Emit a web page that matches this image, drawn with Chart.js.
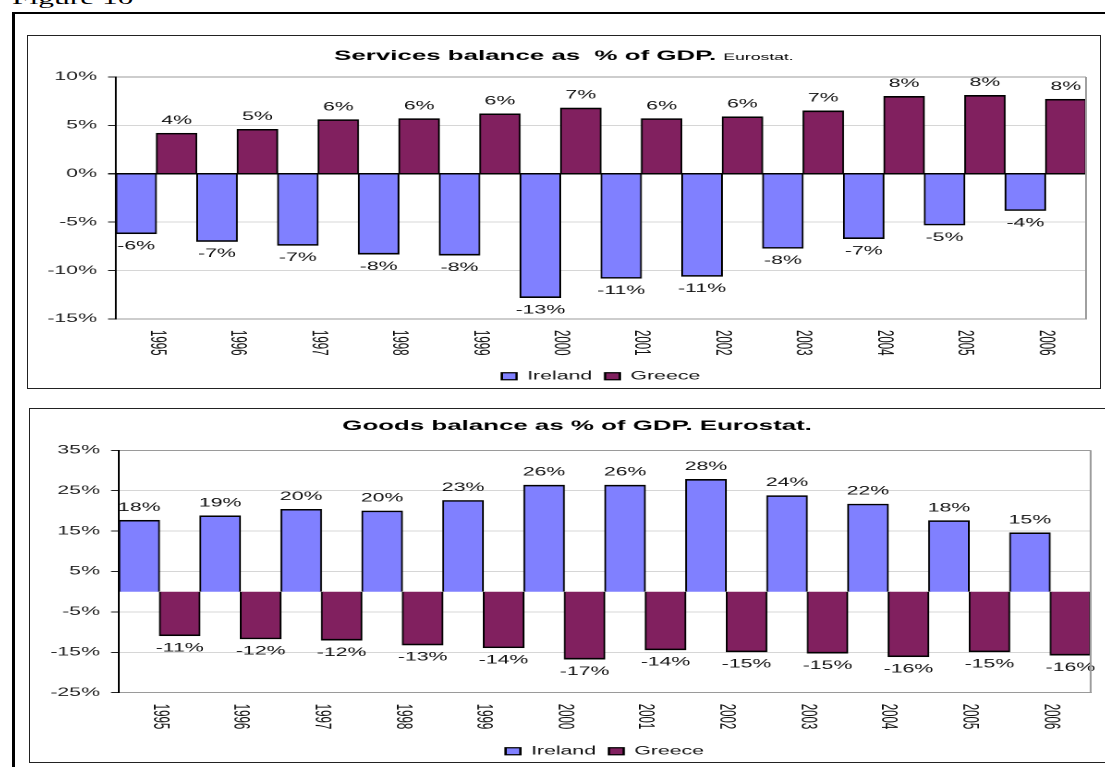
<!DOCTYPE html>
<html>
<head>
<meta charset="utf-8">
<title>Services and goods balance</title>
<script src="https://cdn.jsdelivr.net/npm/chart.js@4.4.1/dist/chart.umd.min.js"></script>
<style>
  html, body { margin: 0; padding: 0; background: #fff; }
  body { width: 1105px; height: 767px; position: relative; overflow: hidden; }
  .fig-caption {
    position: absolute; left: 12px; top: -10px;
    font: 17px/17px "Times New Roman", "Liberation Serif", serif; color: #000;
    transform: scaleX(1.85); transform-origin: 0 0; white-space: nowrap;
  }
  .frame-top { position: absolute; left: 12px; top: 12px; width: 1100px; height: 2px; background: #000; }
  .frame-left { position: absolute; left: 12px; top: 12px; width: 3px; height: 760px; background: #000; }
  .box { position: absolute; border: 1px solid #222; box-sizing: border-box; }
  /* charts are drawn narrow and stretched sideways, like the pasted spreadsheet graphs */
  .stretch { position: absolute; transform-origin: 0 0; transform: scaleX(1.848); }
</style>
</head>
<body>
<div class="fig-caption">Figure 10</div>
<div class="frame-top"></div>
<div class="frame-left"></div>

<div class="box" style="left:27px; top:35px; width:1074px; height:354px;"></div>
<div class="stretch" style="left:28px; top:36px; width:580px; height:356px;">
  <canvas id="services"></canvas>
</div>

<div class="box" style="left:29px; top:408px; width:1100px; height:355px;"></div>
<div class="stretch" style="left:31px; top:409px; width:591px; height:358px;">
  <canvas id="goods"></canvas>
</div>

<script>
// years on the category axis
const years = ['1995', '1996', '1997', '1998', '1999', '2000', '2001', '2002', '2003', '2004', '2005', '2006'];
const seriesNames = ['Ireland', 'Greece'];

// services balance, % of GDP
const servicesIreland = [-6.2, -7.0, -7.4, -8.3, -8.4, -12.8, -10.8, -10.6, -7.7, -6.7, -5.3, -3.8];
const servicesGreece = [4.2, 4.6, 5.6, 5.7, 6.2, 6.8, 5.7, 5.9, 6.5, 8.0, 8.1, 7.7];

// goods balance, % of GDP
const goodsIreland = [17.7, 18.8, 20.4, 20.0, 22.6, 26.4, 26.4, 27.8, 23.8, 21.7, 17.6, 14.6];
const goodsGreece = [-10.9, -11.7, -12.0, -13.2, -13.9, -16.7, -14.4, -14.9, -15.2, -16.1, -14.9, -15.7];

// y axis ranges
const servicesAxis = { min: -15, max: 10, step: 5 };
const goodsAxis = { min: -25, max: 35, step: 10 };

// chart titles: [bold part, small part]
const servicesTitle = ['Services balance as  % of GDP. ', 'Eurostat.'];
const goodsTitle = ['Goods balance as % of GDP. Eurostat.', ''];

const IRELAND_COLOR = '#8080ff';
const GREECE_COLOR = '#81205f';
const FONT = 'Arial, "Liberation Sans", sans-serif';

Chart.defaults.font.family = FONT;
Chart.defaults.color = '#111';

// title, right frame of the plot, value labels and vertical year labels
const sheetDecor = {
  id: 'sheetDecor',
  afterDatasetsDraw(chart, args, opts) {
    const ctx = chart.ctx;
    ctx.save();
    ctx.font = '11.5px ' + FONT;
    ctx.fillStyle = '#111';
    ctx.textAlign = 'center';
    ctx.textBaseline = 'middle';
    chart.data.datasets.forEach((ds, di) => {
      const meta = chart.getDatasetMeta(di);
      meta.data.forEach((bar, i) => {
        const v = ds.data[i];
        const y = v >= 0 ? bar.y - opts.labelGap : bar.y + opts.labelGap;
        ctx.fillText(Math.round(v) + '%', bar.x, y);
      });
    });
    ctx.restore();
  },
  afterDraw(chart, args, opts) {
    const ctx = chart.ctx;
    const area = chart.chartArea;
    ctx.save();

    // right edge of plot area
    ctx.strokeStyle = '#9a9a9a';
    ctx.lineWidth = 1;
    ctx.beginPath();
    ctx.moveTo(area.right, area.top);
    ctx.lineTo(area.right, area.bottom);
    ctx.stroke();

    // title
    const boldFont = 'bold 14px ' + FONT;
    const smallFont = '9.5px ' + FONT;
    ctx.fillStyle = '#000';
    ctx.textBaseline = 'alphabetic';
    ctx.textAlign = 'left';
    ctx.font = boldFont;
    const w1 = ctx.measureText(opts.title[0]).width;
    ctx.font = smallFont;
    const w2 = ctx.measureText(opts.title[1]).width;
    let x = chart.width / 2 - (w1 + w2) / 2;
    ctx.font = boldFont;
    ctx.fillText(opts.title[0], x, opts.titleY);
    ctx.font = smallFont;
    ctx.fillText(opts.title[1], x + w1, opts.titleY);

    // years, rotated to read downwards
    const xs = chart.scales.x;
    ctx.font = '11.5px ' + FONT;
    ctx.fillStyle = '#111';
    ctx.textBaseline = 'middle';
    chart.data.labels.forEach((lab, i) => {
      ctx.save();
      ctx.translate(xs.getPixelForValue(i), area.bottom + opts.yearGap);
      ctx.rotate(Math.PI / 2);
      ctx.fillText(lab, 0, 0);
      ctx.restore();
    });
    ctx.restore();
  }
};

function gridColor(axis) {
  return (c) => {
    const v = c.tick.value;
    if (v === 0) return '#000';
    if (v === axis.max || v === axis.min) return '#9a9a9a';
    return '#d6d6d6';
  };
}

function buildChart(id, irl, grc, axis, title, layout) {
  const barStyle = {
    borderColor: '#000',
    borderWidth: { top: 1.6, bottom: 1.6, left: 1, right: 1 },
    categoryPercentage: 1,
    barPercentage: 1
  };
  return new Chart(document.getElementById(id), {
    type: 'bar',
    data: {
      labels: years,
      datasets: [
        Object.assign({ label: seriesNames[0], data: irl, backgroundColor: IRELAND_COLOR }, barStyle),
        Object.assign({ label: seriesNames[1], data: grc, backgroundColor: GREECE_COLOR }, barStyle)
      ]
    },
    options: {
      responsive: true,
      maintainAspectRatio: false,
      devicePixelRatio: 2,
      animation: false,
      layout: { padding: { top: layout.top, right: layout.right, left: 0, bottom: 0 } },
      scales: {
        x: {
          grid: { display: false },
          border: { display: true, color: '#9a9a9a', width: 1 },
          ticks: { display: false },
          afterFit: (s) => { s.height = layout.xHeight; }
        },
        y: {
          min: axis.min,
          max: axis.max,
          ticks: {
            stepSize: axis.step,
            padding: 6,
            color: '#222',
            font: { size: 11.5 },
            callback: (v) => v + '%'
          },
          grid: {
            color: gridColor(axis),
            lineWidth: (c) => (c.tick.value === 0 ? 1.5 : 1),
            tickColor: '#222',
            tickLength: 4.3
          },
          border: { display: true, color: '#000', width: 1 },
          afterFit: (s) => { s.width = 47.6; }
        }
      },
      plugins: {
        legend: {
          position: 'bottom',
          fullSize: false,
          labels: {
            boxWidth: 8,
            boxHeight: 7,
            padding: 7,
            color: '#111',
            font: { size: 11.5 }
          }
        },
        tooltip: { enabled: false },
        sheetDecor: {
          title: title,
          titleY: layout.titleY,
          labelGap: 12.5,
          yearGap: 11
        }
      }
    },
    plugins: [sheetDecor]
  });
}

buildChart('services', servicesIreland, servicesGreece, servicesAxis, servicesTitle,
  { top: 41, right: 7.5, xHeight: 44.5, titleY: 24 });
buildChart('goods', goodsIreland, goodsGreece, goodsAxis, goodsTitle,
  { top: 41.3, right: 17.6, xHeight: 45.8, titleY: 21 });
</script>
</body>
</html>
